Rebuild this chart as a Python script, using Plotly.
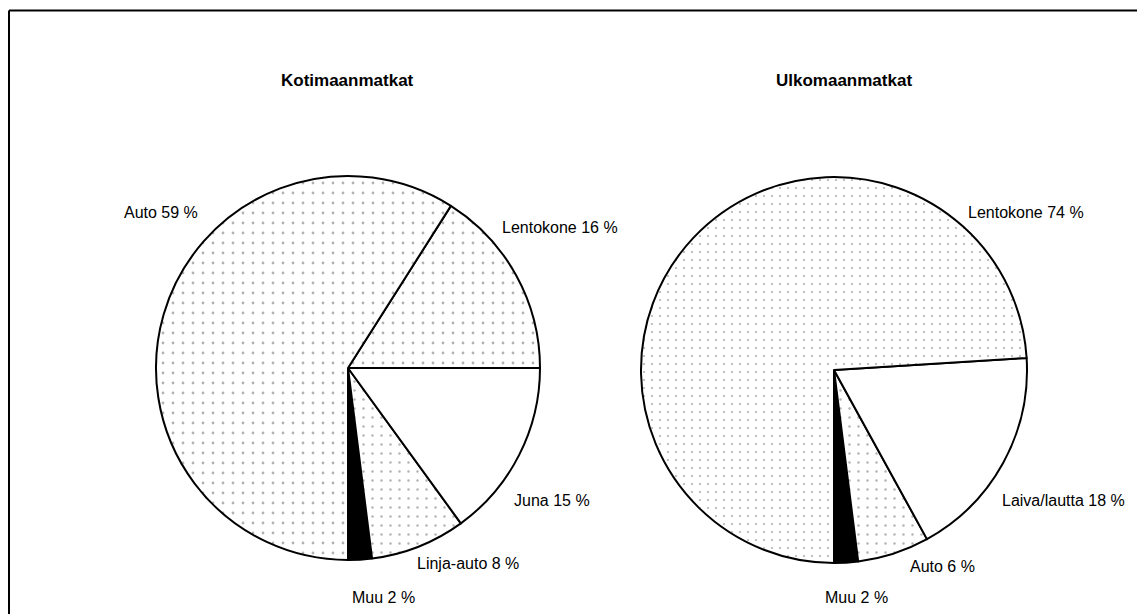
import plotly.graph_objects as go

W, H = 1145, 614
OFF = 8  # default page margin of the html body
FW, FH = W - OFF, H - OFF

# ---- data ----
titles = ["Kotimaanmatkat", "Ulkomaanmatkat"]
koti_cats = ["Muu", "Linja-auto", "Juna", "Lentokone", "Auto"]
koti_vals = [2, 8, 15, 16, 59]
ulko_cats = ["Muu", "Auto", "Laiva/lautta", "Lentokone"]
ulko_vals = [2, 6, 18, 74]

# ---- styles ----
koti_colors = ["black", "white", "white", "white", "white"]
koti_shapes = ["", ".", "", ".", "."]
koti_psize = [10, 9, 10, 10, 10]
ulko_colors = ["black", "white", "white", "white"]
ulko_shapes = ["", ".", "", "."]
ulko_psize = [10, 9, 10, 8]

# pie centres / radii in page pixels
pies = [(348, 368, 192), (834, 370, 193)]

# label positions (page pixel x, page pixel y, anchor)
koti_lpos = [(350, 597, "left"), (415, 563, "left"), (512, 500, "left"),
             (500, 227, "left"), (200, 212, "right")]
ulko_lpos = [(823, 597, "left"), (908, 566, "left"), (1000, 500, "left"),
             (966, 212, "left")]

FONT = "Liberation Sans, Arial, sans-serif"


def px_x(x):
    return (x - OFF) / FW


def px_y(y):
    return 1 - (y - OFF) / FH


def domain(cx, cy, r):
    return dict(x=[px_x(cx - r), px_x(cx + r)], y=[px_y(cy + r), px_y(cy - r)])


fig = go.Figure()
for (cats, vals, cols, shp, psz), (cx, cy, r) in zip(
        [(koti_cats, koti_vals, koti_colors, koti_shapes, koti_psize),
         (ulko_cats, ulko_vals, ulko_colors, ulko_shapes, ulko_psize)], pies):
    fig.add_trace(go.Pie(
        labels=cats, values=vals, sort=False, direction="counterclockwise",
        rotation=172.8, textinfo="none", hoverinfo="label+percent",
        showlegend=False, domain=domain(cx, cy, r),
        marker=dict(colors=cols, line=dict(color="black", width=2),
                    pattern=dict(shape=shp, size=psz, solidity=0.06,
                                 fgcolor="#666666", fillmode="overlay")),
    ))

ann = []
for t, tx in zip(titles, [347, 844]):
    ann.append(dict(text="<b>" + t + "</b>", x=px_x(tx), y=px_y(81), xref="paper",
                    yref="paper", showarrow=False, xanchor="center", yanchor="middle",
                    font=dict(family=FONT, size=17, color="black")))

for cats, vals, lpos in [(koti_cats, koti_vals, koti_lpos), (ulko_cats, ulko_vals, ulko_lpos)]:
    for c, v, (lx, ly, anc) in zip(cats, vals, lpos):
        ann.append(dict(text=f"{c} {v} %", x=px_x(lx), y=px_y(ly), xref="paper",
                        yref="paper", showarrow=False, xanchor=anc, yanchor="middle",
                        font=dict(family=FONT, size=16, color="black")))

shapes = [
    dict(type="line", xref="paper", yref="paper", x0=px_x(9), x1=1, y0=px_y(10.5), y1=px_y(10.5),
         line=dict(color="black", width=2)),
    dict(type="line", xref="paper", yref="paper", x0=px_x(9), x1=px_x(9), y0=0, y1=px_y(10.5),
         line=dict(color="black", width=2)),
]

fig.update_layout(width=FW, height=FH, margin=dict(l=0, r=0, t=0, b=0),
                  paper_bgcolor="white", plot_bgcolor="white",
                  annotations=ann, shapes=shapes)

fig.write_html("out.html")
